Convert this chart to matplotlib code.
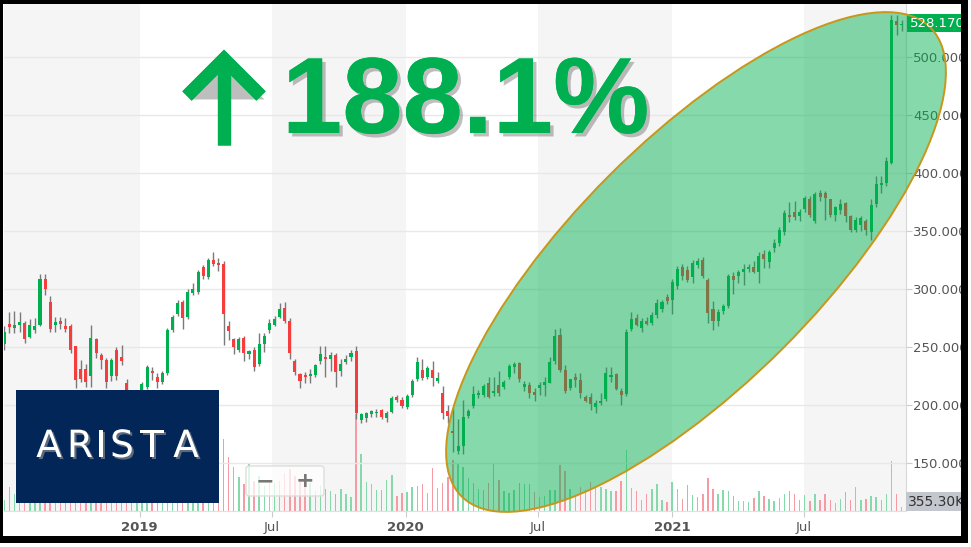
import numpy as np
import pandas as pd
import matplotlib
matplotlib.use("Agg")
import matplotlib.pyplot as plt
import matplotlib.dates as mdates
from matplotlib.patches import Rectangle, Ellipse, FancyBboxPatch
import matplotlib.patheffects as pe

# weekly candles, ANET
opens = [253, 270, 267, 269, 271, 259, 265, 269, 309, 289, 269, 273, 268, 268, 251, 231, 231, 225, 257, 243,
         239, 225, 248, 242, 219, 205, 198, 207, 216, 230, 224, 220, 228, 265, 279, 289, 276, 297, 298, 319,
         311, 325, 323, 322, 268, 257, 248, 258, 244, 248, 236, 253, 265, 269, 276, 284, 273, 238, 227, 226,
         225, 226, 238, 242, 240, 243, 230, 237, 242, 247, 187, 189, 192.5, 193, 196, 189, 194.5, 207.4, 204.6, 198.8,
         209, 222.4, 230.4, 224.7, 230.4, 221.2, 210.3, 195, 178, 161, 165, 191, 199.4, 209, 209, 219, 210.3, 217.5, 215.5, 224.7,
         233.3, 236.2, 216, 217.5, 211.7, 214.7, 217.5, 219.5, 238.4, 260.6, 230.4, 214.7, 224.7, 221.8, 206.9, 207.4, 198.3, 201.7, 205.2, 224.1,
         227, 212.6, 209.7, 265.5, 275, 266.4, 272.9, 270.7, 277.8, 282.8, 293, 290.8, 302.8, 319.5, 316.7, 310.3, 321, 325.3, 308, 282.8,
         272.9, 281.6, 285.6, 311.5, 311.5, 315.2, 317.2, 319.5, 315.2, 330.6, 323.8, 335.3, 339.7, 349.7, 364, 366.9, 363.2, 369, 377.6, 359.1,
         382.8, 382.8, 377.6, 364, 368.4, 374.7, 363.2, 351, 355.4, 359.1, 349.7, 373.5, 389.9, 391.4, 409.1, 531.6, 527.8]
highs = [268, 280, 281, 280, 273, 274, 275, 313, 313, 294, 276, 276, 275, 270, 251, 239, 236, 269, 258, 245,
         241, 241, 250, 252, 223, 210, 210, 220, 235, 233, 228, 230, 267, 278, 291, 291, 300, 305, 317, 321,
         327, 332, 327, 324, 273, 258, 259, 260, 248, 250, 262, 262, 274, 277, 288, 289, 275, 240, 228, 229,
         231, 236, 251, 251, 246, 245, 240, 243, 248, 251, 193, 194, 196, 197, 197, 195, 208, 209, 207, 210,
         223, 242, 240, 234, 238, 229, 217, 200, 198, 188, 205, 197, 217, 213, 218, 224, 224, 230, 222, 236,
         237, 237, 221, 220, 215, 220, 224, 242, 266, 267, 235, 222, 228, 228, 209, 211, 205, 211, 233, 233,
         228, 215, 266, 280, 279, 275, 276, 280, 292, 291, 296, 309, 320, 322, 320, 325, 327, 328, 310, 290,
         283, 287, 313, 315, 317, 322, 322, 324, 332, 334, 334, 343, 354, 368, 375, 376, 369, 380, 380, 384,
         386, 385, 378, 372, 378, 375, 364, 362, 363, 361, 378, 398, 398, 414, 536, 536, 532]
lows = [248, 262, 262, 263, 254, 258, 262, 268, 295, 263, 263, 266, 263, 245, 215, 220, 216, 216, 241, 231,
        215, 221, 222, 235, 200, 196, 195, 205, 214, 222, 215, 218, 226, 263, 277, 266, 274, 295, 296, 309,
        309, 320, 316, 252, 256, 244, 246, 238, 240, 230, 234, 246, 262, 268, 275, 271, 240, 226, 215, 219,
        219, 224, 236, 224, 230, 216, 225, 236, 238, 188, 185, 186, 190, 190, 188, 186, 193, 203, 198, 197,
        207, 221, 222, 223, 217, 219, 188, 185, 160, 158, 158, 189, 198, 206, 207, 206, 208, 208, 214, 223,
        228, 220, 212, 206, 204, 209, 208, 219, 236, 229, 211, 213, 216, 206, 203, 196, 193, 200, 204, 220,
        213, 200, 208, 264, 268, 263, 269, 269, 275, 280, 287, 279, 300, 308, 306, 305, 318, 310, 271, 265,
        268, 279, 284, 296, 305, 304, 315, 314, 305, 318, 318, 332, 337, 347, 358, 360, 359, 367, 362, 357,
        376, 360, 362, 359, 365, 358, 349, 349, 350, 347, 342.5, 371, 383, 389, 408, 519, 523]
closes = [263, 267.5, 269, 272, 257, 269, 268, 309, 300, 266, 272, 270, 266, 248, 222, 223, 220, 258, 245, 239,
          220, 239, 225, 238, 205, 198, 207, 218, 233, 228, 220, 228, 265, 276, 288, 275, 298, 300, 315, 311.5,
          325, 322, 321, 279, 264, 250.5, 257, 245, 247, 233, 253, 260, 271, 274, 283, 273, 245, 229, 221, 224,
          227, 235, 244, 240, 243, 229, 236, 240, 245, 193, 192.5, 193, 195.4, 194.5, 190, 193, 206, 205, 199.4, 208,
          221, 237.6, 223.3, 231.9, 223.3, 223.3, 193, 191, 176, 165, 190, 195.4, 209.7, 211, 216.6, 207.4, 212.6, 210.9, 220.3, 233.8,
          235.6, 222.4, 218.4, 210.3, 208.9, 217.5, 220.3, 237.6, 259.7, 230.4, 212.6, 222.7, 221.8, 210.9, 204, 201.1, 201.7, 204, 227.6, 226,
          213.8, 208.9, 263.5, 274.1, 269.2, 272.9, 270, 277.8, 288, 289.3, 290.2, 306.6, 317.5, 311.5, 308, 322.9, 324.4, 311.5, 279.8, 272.9,
          280.7, 285.6, 311.5, 308, 315.2, 317.2, 319.5, 315.2, 328.7, 326, 332.4, 339.7, 351, 365.5, 362, 362.6, 366.9, 378.4, 364, 381.9,
          379.9, 378.4, 364, 370.7, 373.5, 363.2, 351, 359.7, 361.2, 351, 372.7, 390.8, 391.4, 410.9, 532.2, 527.8, 528.17]
volumes_k = [1100, 2400, 1700, 2000, 1800, 1900, 2100, 5000, 3000, 2800, 2000, 1800, 1900, 2500, 3500, 2800, 3000, 4500, 3000, 2500,
             3000, 2500, 2600, 2400, 2800, 3200, 2600, 2400, 2600, 2200, 2000, 2200, 4500, 3000, 2600, 2500, 2400, 2200, 2600, 2300,
             2500, 2000, 2100, 7200, 5400, 4400, 3400, 2700, 4700, 3000, 3500, 2500, 3000, 2800, 3000, 3800, 4200, 3500, 3000, 2500,
             2800, 2000, 2500, 2200, 2000, 1700, 2200, 1700, 1400, 9700, 5700, 2900, 2700, 2100, 2100, 3100, 3600, 1500, 1800, 1900,
             2400, 2500, 2700, 1800, 4300, 2300, 2800, 3400, 5100, 4800, 4400, 3300, 2800, 2200, 2100, 2800, 4800, 3100, 2000, 1800,
             2100, 2800, 2700, 2700, 1900, 1400, 1500, 2100, 2100, 4600, 4000, 2200, 1500, 2400, 2100, 2900, 2300, 2400, 2200, 2000,
             2000, 3000, 6100, 2300, 2000, 1100, 1700, 2200, 2700, 1100, 900, 2900, 2200, 1200, 2600, 1600, 1400, 1700, 3300, 2200,
             1700, 2100, 2000, 1500, 1000, 1000, 900, 1300, 2000, 1500, 1200, 1000, 1300, 1700, 2000, 1700, 1100, 1600, 1000, 1700,
             1100, 1700, 1100, 800, 1200, 1900, 1100, 2400, 1100, 1200, 1500, 1400, 1100, 1700, 5000, 1700, 355.3]

first_week = "2018-06-29"
y_ticks = [150, 200, 250, 300, 350, 400, 450, 500]
x_ticks = ["2019-01-01", "2019-07-01", "2020-01-01", "2020-07-01", "2021-01-01", "2021-07-01"]
x_labels = ["2019", "Jul", "2020", "Jul", "2021", "Jul"]
gain_text = "188.1%"
last_price = "528.170"
last_volume = "355.30K"

W, H = 971, 547
fig = plt.figure(figsize=(W / 100, H / 100), dpi=100)
L, R, T, B = 4, 906, 4, 511

ax = fig.add_axes([L / W, 1 - B / H, (R - L) / W, (B - T) / H])
axv = ax.twinx()
axv.set_zorder(0)
ax.set_zorder(1)
ax.patch.set_visible(False)
axv.patch.set_facecolor("white")

dates = mdates.date2num(pd.date_range(first_week, periods=len(closes), freq="7D"))
o = np.array(opens); c = np.array(closes); h = np.array(highs); lo = np.array(lows)
up = c >= o

x0 = dates[0] - 0.4
x1 = mdates.date2num(pd.Timestamp("2021-11-18"))
ax.set_xlim(x0, x1)
ax.set_ylim(108.9, 545.9)

# alternating half-year bands
edges = [x0] + [mdates.date2num(pd.Timestamp(d)) for d in x_ticks] + [x1]
for i in range(0, len(edges) - 1, 2):
    axv.axvspan(edges[i], edges[i + 1], color="#f5f5f5", lw=0, zorder=0)

# volume
axv.set_ylim(0, (B - T) * 100)
axv.bar(dates, volumes_k, width=2.0, color=np.where(up, "#86d9ab", "#f89aa4"), zorder=2)
axv.set_yticks([])
for s in axv.spines.values():
    s.set_visible(False)

# candles
ax.vlines(dates, lo, h, color="#7a7a7a", lw=1, zorder=3)
ax.bar(dates, np.maximum(np.abs(c - o), 0.7), bottom=np.minimum(o, c), width=4.2,
       color=np.where(up, "#00b050", "#f53d3d"), zorder=4)

ax.set_yticks(y_ticks)
ax.yaxis.tick_right()
ax.set_yticklabels([f"{v:.3f}" for v in y_ticks], color="#555555", fontsize=9.5)
ax.tick_params(axis="y", length=4, color="#cccccc", pad=1)
ax.grid(axis="y", color="#e8e8e8", lw=1, zorder=1)
ax.set_xticks([mdates.date2num(pd.Timestamp(d)) for d in x_ticks])
ax.set_xticklabels(x_labels, color="#555555", fontsize=9.5)
for lab in ax.get_xticklabels():
    if lab.get_text() != "Jul":
        lab.set_fontweight("bold")
ax.tick_params(axis="x", length=4, color="#cccccc", pad=3)
for k in ["top", "left"]:
    ax.spines[k].set_visible(False)
ax.spines["right"].set_color("#d8d8d8")
ax.spines["bottom"].set_color("#e0e0e0")

# overlay in pixel coordinates
ov = fig.add_axes([0, 0, 1, 1])
ov.set_xlim(0, W)
ov.set_ylim(H, 0)
ov.axis("off")
ov.set_zorder(5)

# zoom buttons
ov.add_patch(FancyBboxPatch((246, 466), 78, 30, boxstyle="round,pad=0,rounding_size=3",
                            fc=(1, 1, 1, 0.75), ec="#dddddd", lw=1))
ov.text(265, 481, "\u2212", ha="center", va="center", fontsize=16, color="#777777", fontweight="bold")
ov.text(305, 481, "+", ha="center", va="center", fontsize=16, color="#777777", fontweight="bold")

# logo
ov.add_patch(Rectangle((16, 390), 203, 113, fc="#022657", ec="none"))
for ch, xc in zip("ARISTA", [49, 80, 101, 122, 152, 186]):
    ov.text(xc, 447, ch, ha="center", va="center", fontsize=27, color="white",
            path_effects=[pe.withSimplePatchShadow(offset=(1.5, -1.5), shadow_rgbFace="#999999", alpha=0.6)])

# value tags
ov.add_patch(Rectangle((907, 14), 60, 18, fc="#00b050", ec="none"))
ov.text(910, 23.5, last_price, ha="left", va="center", fontsize=9.5, color="white")
ov.add_patch(Rectangle((906, 492), 60, 19, fc="#c4c7ce", ec="none"))
ov.text(908, 502, last_volume, ha="left", va="center", fontsize=10, color="#333333")

# headline
shadow = [pe.withSimplePatchShadow(offset=(2.5, -2.5), shadow_rgbFace="#555555", alpha=0.38), pe.Normal()]
ov.text(282, 133, gain_text, ha="left", va="baseline", fontsize=78, color="#00b050",
        family="Liberation Sans", fontweight="bold", path_effects=shadow)
ov.plot([187, 224, 261], [96, 59, 96], color="#00b050", lw=9.5, solid_capstyle="butt",
        solid_joinstyle="miter", path_effects=shadow)
ov.plot([224, 224], [62, 145], color="#00b050", lw=9.5, solid_capstyle="butt", path_effects=shadow)

# highlight ellipse
ov.add_patch(Ellipse((696, 262), 663, 245, angle=-45, fc=(0, 0.69, 0.31, 0.48), ec="#c9961a", lw=1.4))

# frame
for rx, ry, rw, rh in [(0, 0, 3, 543), (0, 0, 968, 4), (961, 0, 7, 543), (0, 536, 968, 7)]:
    ov.add_patch(Rectangle((rx, ry), rw, rh, fc="black", ec="none", zorder=10))

fig.savefig("out.png", dpi=100)
